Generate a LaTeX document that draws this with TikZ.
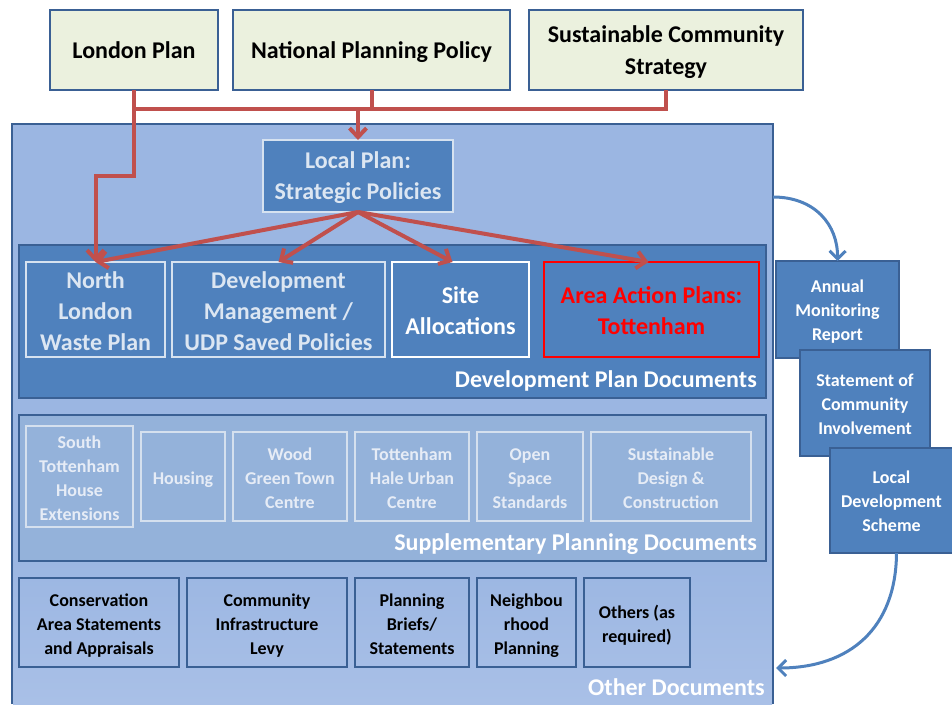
\documentclass[tikz,border=0pt]{standalone}
\usepackage{fontspec}
\setmainfont{Carlito}
\usetikzlibrary{arrows.meta,calc}
\definecolor{accent}{HTML}{4F81BD}
\definecolor{darkb}{HTML}{3A6094}
\definecolor{outerfill}{HTML}{9BB6E2}
\definecolor{outerlight}{HTML}{D8E2F3}
\definecolor{outerbot}{HTML}{A9C0E7}
\definecolor{spdfill}{HTML}{94B2DA}
\definecolor{topfill}{HTML}{EBF1DE}
\definecolor{redl}{HTML}{C0504D}
\definecolor{paletxt}{HTML}{DCE6F2}
\definecolor{paleborder}{HTML}{D6E2F0}
\definecolor{spdtxt}{HTML}{E6ECF6}
\definecolor{spdborder}{HTML}{D5E0EE}
% struts: top of first line and bottom of last line
\newcommand\tp[1]{\rule{0pt}{#1pt}}
\newcommand\bt{\rule[-7pt]{0pt}{7pt}}
\begin{document}
\begin{tikzpicture}[x=1pt,y=-1pt,
  box/.style={draw, inner sep=0pt, outer sep=0pt, align=center, line width=2pt},
  topbox/.style={box, fill=topfill, draw=darkb, text=black, minimum height=80pt,
    font=\bfseries\fontsize{24}{32}\selectfont},
  dpdin/.style={box, fill=accent, minimum height=95pt,
    font=\bfseries\fontsize{24}{31}\selectfont},
  spdin/.style={box, fill=spdfill, draw=spdborder, text=spdtxt, minimum height=89pt,
    font=\bfseries\fontsize{18}{24}\selectfont},
  othbox/.style={box, draw=darkb, text=black, minimum height=89pt,
    font=\bfseries\fontsize{18}{24}\selectfont},
  rbox/.style={box, fill=accent, draw=darkb, text=white,
    font=\bfseries\fontsize{18}{24}\selectfont},
  lbl/.style={inner sep=0pt, text=white, font=\bfseries\fontsize{24}{28}\selectfont},
  redline/.style={draw=redl, line width=4pt},
  redarrow/.style={redline, -{Straight Barb[length=9pt,width=17pt]}},
  bluearrow/.style={draw=accent, line width=3pt, -{Straight Barb[length=8pt,width=16pt]}}
]
\useasboundingbox (0,0) rectangle (952,704);

% outer container
\fill[outerfill] (12,124) rectangle (773,704);
\shade[top color=outerfill, middle color=outerlight, bottom color=outerbot] (13,560) rectangle (772,704);
\draw[darkb, line width=2pt] (12,704) -- (12,124) -- (773,124) -- (773,704);
\coordinate (o1) at (773,197);
\coordinate (o2) at (776,668);

% top boxes
\node[topbox, minimum width=168pt] (lp) at (134,50) {\tp{23}London Plan\bt};
\node[topbox, minimum width=277pt] (npp) at (371.5,50) {\tp{23}National Planning Policy\bt};
\node[topbox, minimum width=274pt] (scs) at (666,50) {\tp{23}Sustainable Community\\Strategy\bt};

% local plan
\node[box, fill=accent, draw=paleborder, text=paletxt, minimum width=190pt, minimum height=72pt,
  font=\bfseries\fontsize{24}{31}\selectfont] (local) at (358,176) {\tp{22}Local Plan:\\Strategic Policies\bt};

% DPD
\node[box, fill=accent, draw=darkb, line width=2.5pt, minimum width=747pt, minimum height=153pt] (dpd) at (392.5,321.5) {};
\node[dpdin, draw=paleborder, text=paletxt, minimum width=139pt] (nlw) at (95.5,309.5) {\tp{26}North\\London\\Waste Plan\bt};
\node[dpdin, draw=paleborder, text=paletxt, minimum width=213pt] (dm) at (278.5,309.5) {\tp{26}Development\\Management /\\UDP Saved Policies\bt};
\node[dpdin, draw=white, text=white, minimum width=137pt] (sa) at (460.5,309.5) {\tp{26}Site\\Allocations\bt};
\node[dpdin, draw=red, text=red, minimum width=215pt] (aap) at (651.5,309.5) {\tp{26}Area Action Plans:\\Tottenham\bt};
\node[lbl, anchor=base east] (dpdl) at (757,387) {Development Plan Documents};

% SPD
\node[box, fill=spdfill, draw=darkb, line width=2.5pt, minimum width=747pt, minimum height=146pt] (spd) at (392.5,488) {};
\node[spdin, minimum width=107pt] (s1) at (79.5,476.5) {\tp{22}South\\Tottenham\\House\\Extensions\bt};
\node[spdin, minimum width=84pt] (s2) at (183,476.5) {\tp{22}Housing\bt};
\node[spdin, minimum width=114pt] (s3) at (290,476.5) {\tp{22}Wood\\Green Town\\Centre\bt};
\node[spdin, minimum width=114pt] (s4) at (412,476.5) {\tp{22}Tottenham\\Hale Urban\\Centre\bt};
\node[spdin, minimum width=106pt] (s5) at (530,476.5) {\tp{22}Open\\Space\\Standards\bt};
\node[spdin, minimum width=160pt] (s6) at (671,476.5) {\tp{22}Sustainable\\Design \&\\Construction\bt};
\node[lbl, anchor=base east] (spdl) at (757,550) {Supplementary Planning Documents};

% Other documents
\node[othbox, minimum width=160pt] (t1) at (99,622.5) {\tp{23}Conservation\\Area Statements\\and Appraisals\bt};
\node[othbox, minimum width=160pt] (t2) at (267,622.5) {\tp{23}Community\\Infrastructure\\Levy\bt};
\node[othbox, minimum width=114pt] (t3) at (412,622.5) {\tp{23}Planning\\Briefs/\\Statements\bt};
\node[othbox, minimum width=99pt] (t4) at (526.5,622.5) {\tp{23}Neighbou\\rhood\\Planning\bt};
\node[othbox, minimum width=106pt] (t5) at (637,622.5) {\tp{23}Others (as\\required)\bt};
\node[lbl, anchor=base east] (othl) at (765,695) {Other Documents};

% right stack
\node[rbox, minimum width=123pt, minimum height=97pt] (amr) at (837.5,309.5) {\tp{21}Annual\\Monitoring\\Report\bt};
\node[rbox, minimum width=130pt, minimum height=106pt] (sci) at (865,403) {\tp{21}Statement of\\Community\\Involvement\bt};
\node[rbox, minimum width=123pt, minimum height=105pt] (lds) at (891.5,500.5) {\tp{21}Local\\Development\\Scheme\bt};

% red connectors
\coordinate (bus) at (0,109);
\draw[redline] (lp.south) |- (scs.south |- bus) -- (scs.south);
\draw[redline] (npp.south) -- (npp.south |- bus);
\draw[redarrow] (local.north |- bus) -- (local.north);
\draw[redarrow] (lp.south) |- ($(nlw.north)+(0,-86)$) -- (nlw.north);
\draw[redarrow] (local.south) -- (nlw.north);
\draw[redarrow] (local.south) -- (dm.north);
\draw[redarrow] (local.south) -- ($(sa.north)+(-8,0)$);
\draw[redarrow] (local.south) -- ($(aap.north)+(-3,0)$);

% blue connectors
\draw[bluearrow] (o1) .. controls (815,197) and (838,225) .. (amr.north);
\draw[bluearrow] ($(lds.south)+(5,0)$) .. controls (896,628) and (850,668) .. (o2);
\end{tikzpicture}
\end{document}
